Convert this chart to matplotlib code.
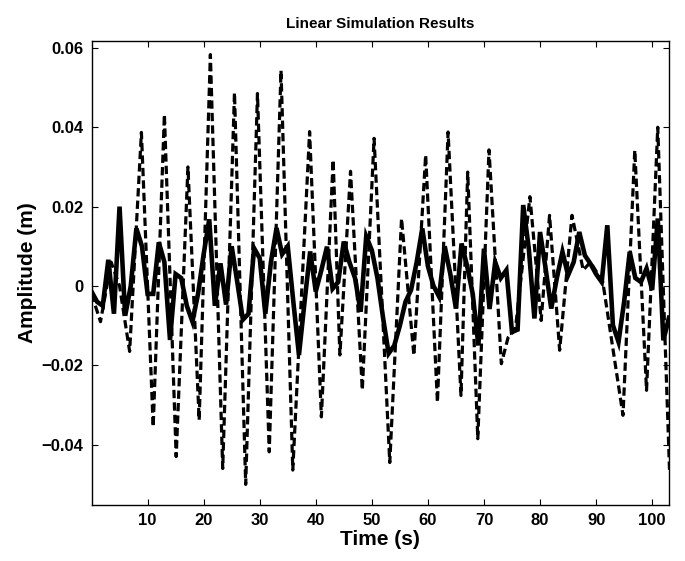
import numpy as np
import matplotlib
matplotlib.use("Agg")
import matplotlib.pyplot as plt
from matplotlib.ticker import FuncFormatter

# solid line: system response, one vertex per second
t_solid = list(range(0, 104))
y_solid = [
    -0.0014, -0.004, -0.005, 0.0066, -0.007, 0.020, -0.0075, 0.000, 0.0145, 0.010,
    -0.002, -0.002, 0.011, 0.006, -0.0136, 0.003, 0.002, -0.005, -0.009, -0.002,
    0.008, 0.0168, -0.005, 0.0057, -0.0047, 0.010, 0.001, -0.0085, -0.007, 0.0095,
    0.007, -0.007, 0.006, 0.0146, 0.008, 0.010, -0.004, -0.0174, -0.004, 0.0087,
    -0.0014, 0.004, 0.0099, -0.0007, 0.001, 0.0112, 0.006, 0.002, -0.0065, 0.0125,
    0.009, 0.002, -0.008, -0.017, -0.015, -0.010, -0.004, -0.001, 0.006, 0.0145,
    0.005, 0.000, -0.0027, 0.010, 0.003, -0.0057, 0.0107, 0.005, -0.002, -0.015,
    0.0094, -0.0058, 0.006, 0.002, 0.004, -0.0116, -0.011, 0.0204, 0.0094, -0.0082,
    0.0136, 0.0044, -0.0057, 0.002, 0.0086, 0.0027, 0.006, 0.0136, 0.0077, 0.0056,
    0.003, 0.001, 0.0153, -0.0099, -0.0141, -0.004, 0.0086, 0.002, 0.001, 0.0044,
    -0.001, 0.017, -0.0137, -0.008,
]

# dashed line: input signal, turning points
t_dash = [0, 1.6, 3.5, 5.0, 6.8, 8.9, 11.0, 13.0, 15.1, 17.2, 19.2, 21.2, 23.4,
          25.5, 27.5, 29.6, 31.7, 33.8, 35.9, 38.9, 41.0, 43.1, 44.3, 46.2, 48.3,
          50.4, 53.2, 55.3, 57.5, 59.6, 61.7, 63.6, 65.9, 67.1, 68.9, 70.9, 73.1,
          74.3, 75.6, 78.2, 80.2, 81.7, 83.5, 85.7, 87.7, 89.0, 91.2, 94.8, 96.9,
          99.0, 101.0, 103.1]
y_dash = [-0.002, -0.009, 0.006, 0.000, -0.0165, 0.0387, -0.0355, 0.0432, -0.043,
          0.030, -0.0338, 0.0583, -0.046, 0.0487, -0.050, 0.0485, -0.0418, 0.0543,
          -0.0464, 0.0389, -0.033, 0.0318, -0.0174, 0.0289, -0.0262, 0.0372,
          -0.0445, 0.017, -0.0175, 0.033, -0.0293, 0.0388, -0.0276, 0.0287, -0.0385,
          0.0343, -0.0196, -0.013, -0.011, 0.0225, -0.0087, 0.0178, -0.0162, 0.0178,
          0.004, 0.006, 0.001, -0.0326, 0.0342, -0.0263, 0.040, -0.0465]

x_ticks = [10, 20, 30, 40, 50, 60, 70, 80, 90, 100]
y_ticks = [-0.04, -0.02, 0, 0.02, 0.04, 0.06]


def y_fmt(v, pos):
    if abs(v) < 1e-9:
        return '0'
    return ('%.2f' % v).replace('-', '\u2212')


plt.rcParams['font.family'] = ['Liberation Sans', 'DejaVu Sans']
plt.rcParams['font.weight'] = 'bold'

fig = plt.figure(figsize=(6.85, 5.61), dpi=100)
ax = fig.add_axes([0.1336, 0.0998, 0.843, 0.8276])

ax.plot(t_dash, y_dash, color='black', linewidth=2.3, linestyle=(0, (2.6, 1.3)),
        dash_capstyle='butt', solid_joinstyle='miter')
ax.plot(t_solid, y_solid, color='black', linewidth=3.3, solid_joinstyle='miter')

ax.set_xlim(0, 103)
ax.set_ylim(-0.0552, 0.0618)
ax.set_xticks(x_ticks)
ax.set_yticks(y_ticks)
ax.yaxis.set_major_formatter(FuncFormatter(y_fmt))
ax.tick_params(direction='in', length=4, width=0.8, top=True, right=True,
               labelsize=12, pad=6)
for lab in ax.get_xticklabels() + ax.get_yticklabels():
    lab.set_fontweight('bold')
for sp in ax.spines.values():
    sp.set_linewidth(1.0)

ax.set_title('Linear Simulation Results', fontsize=11, fontweight='bold', pad=9)
ax.set_xlabel('Time (s)', fontsize=15, fontweight='bold', labelpad=1)
ax.set_ylabel('Amplitude (m)', fontsize=15, fontweight='bold', labelpad=3)

fig.savefig('out.png', dpi=100)
